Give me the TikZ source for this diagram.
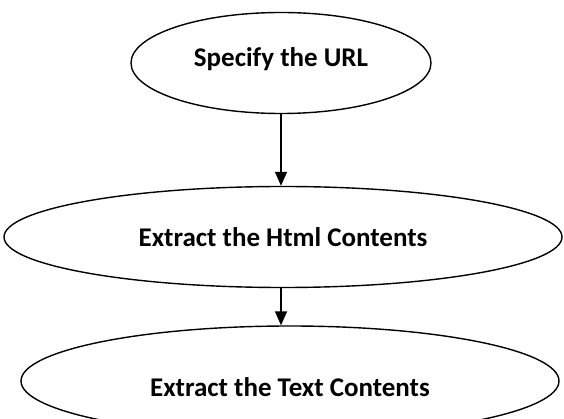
\documentclass[tikz,border=0pt]{standalone}
\usepackage{fontspec}
\setmainfont{Carlito}
\usetikzlibrary{shapes.geometric,arrows.meta}
\begin{document}
\begin{tikzpicture}[x=1pt,y=-1pt,
  oval/.style={draw=black,line width=1.4pt,ellipse,inner sep=0pt,font=\bfseries\fontsize{27}{32}\selectfont},
  flow/.style={line width=1.6pt,-{Triangle[width=12pt,length=14pt]}}]
\useasboundingbox (0,0) rectangle (564,419);
\node[oval,minimum width=300pt,minimum height=101pt] (a) at (281,63) {\raisebox{-4pt}[0pt][0pt]{Specify the URL}};
\node[oval,minimum width=558pt,minimum height=101pt] (b) at (283,237) {Extract the Html Contents};
\node[oval,minimum width=538pt,minimum height=110pt] (c) at (290,381) {\raisebox{-15pt}[0pt][0pt]{Extract the Text Contents}};
\draw[flow] (a.south) -- (b.north -| a.south);
\draw[flow] (b.south -| a.south) -- (c.north -| a.south);
\end{tikzpicture}
\end{document}
